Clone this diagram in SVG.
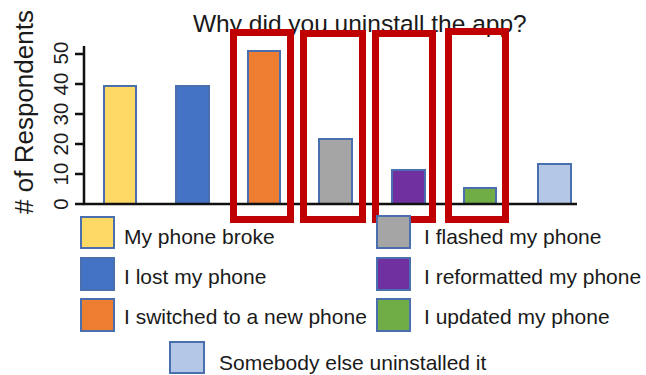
<svg xmlns="http://www.w3.org/2000/svg" width="646" height="375" viewBox="0 0 646 375">
<style>
text{font-family:"Liberation Sans",Arial,sans-serif;fill:#1a1a1a}
.bar{stroke:#4a6fae;stroke-width:2}
.sw{stroke:#4a6fae;stroke-width:2}
.lg{font-size:21px}
.tk{font-size:20.5px;text-anchor:middle}
.ax{stroke:#111;stroke-width:2.5;fill:none}
.hl{fill:none;stroke:#c00000;stroke-width:7}
</style>
<rect width="646" height="375" fill="#fff"/>
<text x="193" y="32" style="font-size:24.5px">Why did you uninstall the app?</text>
<text transform="translate(33,112) rotate(-90)" style="font-size:26px;text-anchor:middle">#&#160;of Respondents</text>
<g id="ticklabels">
<text class="tk" transform="translate(68,204) rotate(-90)">0</text>
<text class="tk" transform="translate(68,174) rotate(-90)">10</text>
<text class="tk" transform="translate(68,144) rotate(-90)">20</text>
<text class="tk" transform="translate(68,114) rotate(-90)">30</text>
<text class="tk" transform="translate(68,84) rotate(-90)">40</text>
<text class="tk" transform="translate(68,53) rotate(-90)">50</text>
</g>
<g id="bars">
<rect id="bar-broke" class="bar" x="104" y="86" width="32" height="118" fill="#ffd966"/>
<rect id="bar-lost" class="bar" x="176" y="86" width="33" height="118" fill="#4472c4"/>
<rect id="bar-switched" class="bar" x="248" y="51" width="32" height="153" fill="#ed7d31"/>
<rect id="bar-flashed" class="bar" x="319" y="139" width="33" height="65" fill="#a5a5a5"/>
<rect id="bar-reformatted" class="bar" x="392" y="170" width="33" height="34" fill="#7030a0"/>
<rect id="bar-updated" class="bar" x="464" y="188" width="32" height="16" fill="#70ad47"/>
<rect id="bar-somebody" class="bar" x="538" y="164" width="33" height="40" fill="#b4c7e7"/>
</g>
<g id="axes">
<path class="ax" d="M84 46V204H577"/>
<path class="ax" d="M75 204H84M75 174H84M75 144H84M75 114H84M75 84H84M75 54H84"/>
</g>
<g id="highlights">
<rect id="hl-1" class="hl" x="233.5" y="32.5" width="57" height="187"/>
<rect id="hl-2" class="hl" x="303.5" y="33.5" width="59" height="186"/>
<rect id="hl-3" class="hl" x="375.5" y="33.5" width="57" height="186"/>
<rect id="hl-4" class="hl" x="448.5" y="31.5" width="57" height="188"/>
</g>
<g id="connectors"/>
<g id="legend">
<g id="lg-broke"><rect class="sw" x="81" y="217" width="33" height="31" fill="#ffd966"/><text class="lg" x="124" y="244">My phone broke</text></g>
<g id="lg-lost"><rect class="sw" x="81" y="258" width="33" height="32" fill="#4472c4"/><text class="lg" x="124" y="284">I lost my phone</text></g>
<g id="lg-switched"><rect class="sw" x="81" y="299" width="33" height="32" fill="#ed7d31"/><text class="lg" x="124" y="324">I switched to a new phone</text></g>
<g id="lg-flashed"><rect class="sw" x="377" y="216" width="33" height="32" fill="#a5a5a5"/><text class="lg" x="424" y="244">I flashed my phone</text></g>
<g id="lg-reformatted"><rect class="sw" x="377" y="258" width="33" height="32" fill="#7030a0"/><text class="lg" x="424" y="284">I reformatted my phone</text></g>
<g id="lg-updated"><rect class="sw" x="377" y="299" width="33" height="32" fill="#70ad47"/><text class="lg" x="424" y="324">I updated my phone</text></g>
<g id="lg-somebody"><rect class="sw" x="170" y="342" width="34" height="31" fill="#b4c7e7"/><text class="lg" x="219" y="370">Somebody else uninstalled it</text></g>
</g>
</svg>
